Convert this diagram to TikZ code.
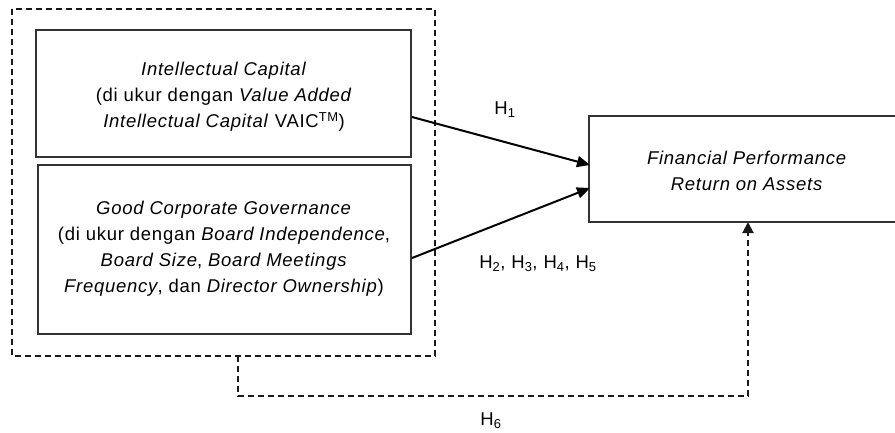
\documentclass[tikz,border=0pt]{standalone}
\usepackage{fontspec}
\setmainfont{Liberation Sans}[LetterSpace=4]
\usetikzlibrary{arrows.meta}
\tikzset{
  boxstyle/.style={draw=black!80, line width=1.5pt},
  dashstyle/.style={draw=black!90, line width=2pt, dash pattern=on 6pt off 4pt},
  txt/.style={align=center, font=\fontsize{18.5}{26}\selectfont},
  lbl/.style={font=\fontsize{18.5}{20}\selectfont},
  arr/.style={line width=2pt, -{Triangle[length=13pt,width=11pt]}},
}
\begin{document}
\begin{tikzpicture}[x=1pt,y=-1pt]
\useasboundingbox (0,0) rectangle (895,432);
% outer dashed group
\draw[dashstyle] (12,9) rectangle (435,356);
% boxes
\draw[boxstyle] (36,30) rectangle (411,157);
\draw[boxstyle] (38,165) rectangle (411,334);
\draw[boxstyle] (589,116) rectangle (900,222);
\node[txt] (ic) at (224,97) {\textit{Intellectual Capital}\\(di ukur dengan \textit{Value Added}\\\textit{Intellectual Capital} VAIC\textsuperscript{TM})};
\node[txt] (gcg) at (224,249) {\textit{Good Corporate Governance}\\(di ukur dengan \textit{Board Independence},\\\textit{Board Size}, \textit{Board Meetings}\\\textit{Frequency}, dan \textit{Director Ownership})};
\node[txt] (fp) at (747,171) {\textit{Financial Performance}\\\textit{Return on Assets}};
% coordinates
\coordinate (a1) at (412,117);
\coordinate (b1) at (590,165);
\coordinate (a2) at (412,258);
\coordinate (b2) at (590,188);
\coordinate (d0) at (238,356);
\coordinate (d1) at (238,396);
\coordinate (d2) at (748,396);
\coordinate (d3) at (748,222);
\draw[arr] (a1) -- (b1);
\draw[arr] (a2) -- (b2);
\draw[dashstyle, -{Triangle[length=11pt,width=11pt]}] (d0) -- (d1) -- (d2) -- (d3);
\node[lbl] (h1) at (505,110) {H\textsubscript{1}};
\node[lbl] (h25) at (538,264) {H\textsubscript{2}, H\textsubscript{3}, H\textsubscript{4}, H\textsubscript{5}};
\node[lbl] (h6) at (491,421) {H\textsubscript{6}};
\end{tikzpicture}
\end{document}
